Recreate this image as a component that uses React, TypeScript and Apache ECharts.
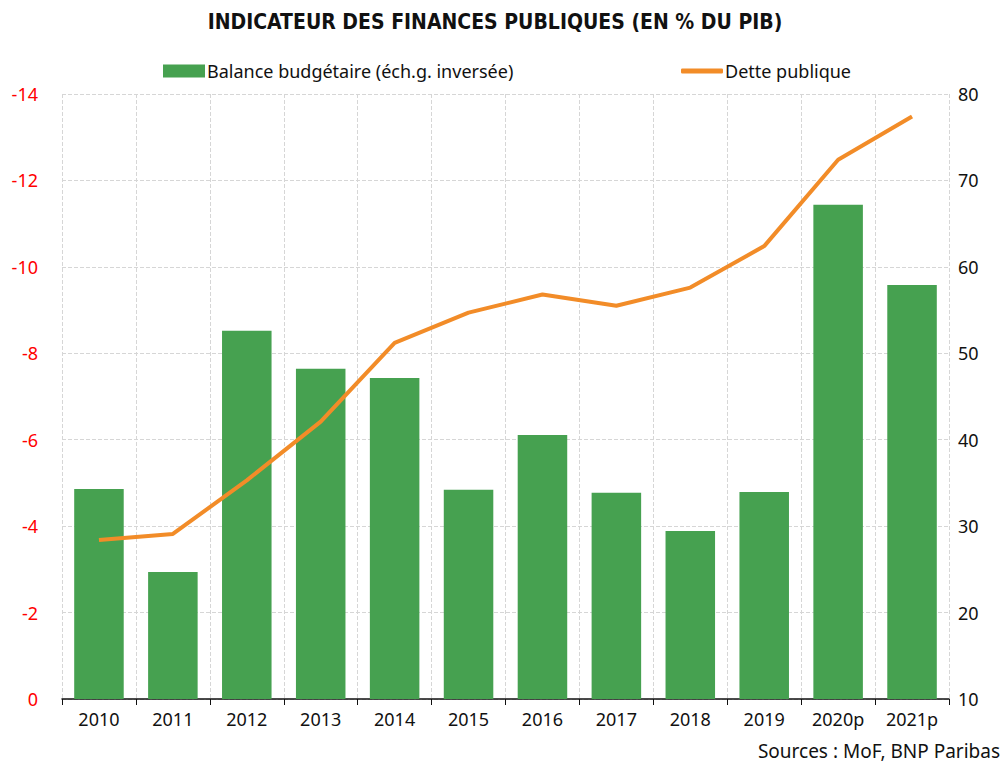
import React, { useEffect, useRef } from "react";
import * as echarts from "echarts";

const categories = ["2010", "2011", "2012", "2013", "2014", "2015", "2016", "2017", "2018", "2019", "2020p", "2021p"];
const balance = [-4.86, -2.94, -8.52, -7.64, -7.43, -4.84, -6.11, -4.77, -3.89, -4.79, -11.44, -9.58];
const debt = [28.4, 29.1, 35.3, 42.1, 51.2, 54.7, 56.8, 55.5, 57.6, 62.4, 72.4, 77.4];

const FONT = "'Noto Sans', 'DejaVu Sans', sans-serif";
const GREEN = "#46A150";
const ORANGE = "#F28C28";

export default function App() {
  const ref = useRef<HTMLDivElement>(null);
  useEffect(() => {
    const chart = echarts.init(ref.current!, null, { renderer: "svg" });
    chart.setOption({
      animation: false,
      textStyle: { fontFamily: FONT },
      title: {
        text: "INDICATEUR DES FINANCES PUBLIQUES (EN % DU PIB)",
        left: 490,
        textAlign: "center",
        top: 6,
        textStyle: { fontFamily: "'Liberation Sans Narrow', 'DejaVu Sans Condensed', sans-serif", fontWeight: "bold", fontSize: 21, color: "#111" },
      },
      legend: [
        {
          data: [{ name: "Balance budgétaire (éch.g. inversée)", icon: "rect" }],
          left: 158,
          top: 57,
          itemWidth: 42,
          itemHeight: 13,
          itemGap: 4,
          textStyle: { fontSize: 18, color: "#111", fontFamily: FONT, padding: [0, 0, 0, -3] },
        },
        {
          data: [{ name: "Dette publique", icon: "roundRect" }],
          left: 676,
          top: 57,
          itemWidth: 42,
          itemHeight: 5,
          textStyle: { fontSize: 18, color: "#111", fontFamily: FONT, padding: [0, 0, 0, -3] },
        },
      ],
      graphic: [
        {
          type: "text",
          right: 8,
          top: 741,
          style: { text: "Sources : MoF, BNP Paribas", fontSize: 19, fontFamily: FONT, fill: "#111" },
        },
      ],
      grid: { left: 62, right: 59, top: 94, bottom: 75 },
      xAxis: {
        type: "category",
        data: categories,
        boundaryGap: true,
        axisLine: { lineStyle: { color: "#111", width: 1.5 } },
        axisTick: { show: true, length: 6, lineStyle: { color: "#111" } },
        axisLabel: { fontSize: 18, color: "#111", margin: 11, fontFamily: FONT },
        splitLine: { show: true, lineStyle: { type: "dashed", color: "#d6d6d6" } },
      },
      yAxis: [
        {
          type: "value",
          min: -14,
          max: 0,
          interval: 2,
          inverse: true,
          axisLine: { show: false },
          axisTick: { show: false },
          axisLabel: { fontSize: 18, color: "#ff0000", margin: 24, fontFamily: FONT },
          splitLine: { show: true, lineStyle: { type: "dashed", color: "#d6d6d6" } },
        },
        {
          type: "value",
          min: 10,
          max: 80,
          interval: 10,
          position: "right",
          axisLine: { show: false },
          axisTick: { show: false },
          axisLabel: { fontSize: 18, color: "#111", margin: 9, fontFamily: FONT },
          splitLine: { show: false },
        },
      ],
      series: [
        {
          name: "Balance budgétaire (éch.g. inversée)",
          type: "bar",
          data: balance,
          yAxisIndex: 0,
          barWidth: "67%",
          itemStyle: { color: GREEN },
        },
        {
          name: "Dette publique",
          type: "line",
          data: debt,
          yAxisIndex: 1,
          symbol: "none",
          lineStyle: { color: ORANGE, width: 4 },
          itemStyle: { color: ORANGE },
        },
      ],
    });
    return () => chart.dispose();
  }, []);
  return <div ref={ref} style={{ width: 1008, height: 774, margin: -8 }} />;
}
